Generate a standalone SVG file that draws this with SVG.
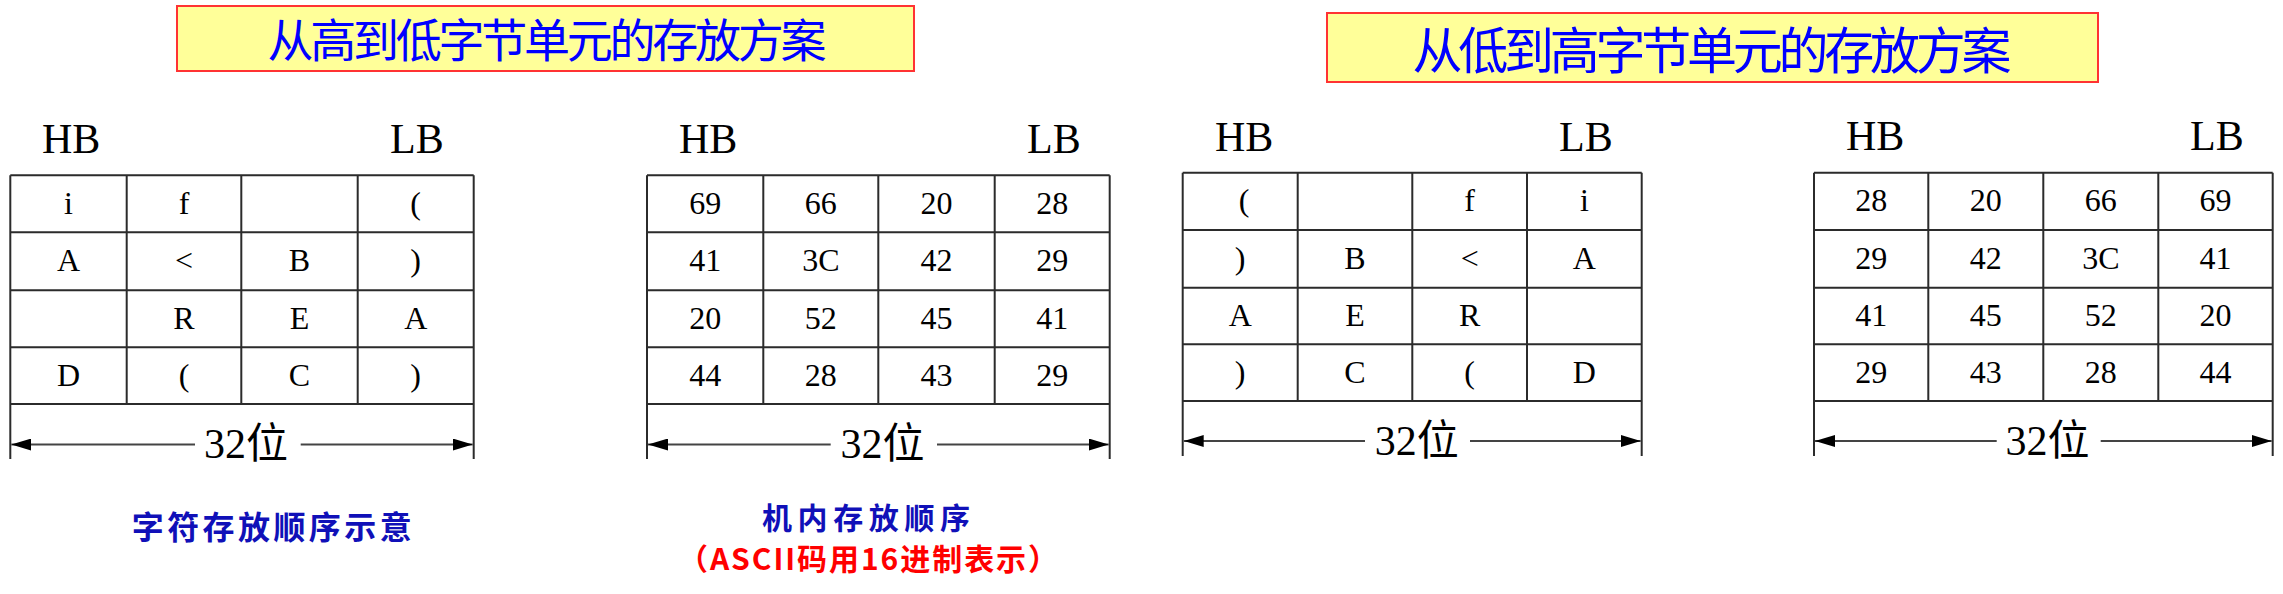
<svg xmlns="http://www.w3.org/2000/svg" width="2283" height="594" viewBox="0 0 2283 594">
<defs>
<style>
.title-box{fill:#FFFF99;stroke:#FF3333;stroke-width:2}
.title{font-family:"Noto Sans CJK SC",sans-serif;fill:#0000FF;text-anchor:middle}
.grid{fill:none;stroke:#2b2b2b;stroke-width:2}
.hb{font-family:"Liberation Serif",serif;font-size:42px;fill:#000}
.cell{font-family:"Liberation Serif",serif;font-size:32px;fill:#000;text-anchor:middle}
.dim{font-family:"Liberation Serif","Noto Sans CJK SC",serif;font-size:42px;fill:#000;text-anchor:middle}
.dimline{stroke:#444;stroke-width:2;fill:none}
.cap-blue{font-family:"Noto Sans CJK SC",sans-serif;font-weight:bold;fill:#1010B8;text-anchor:middle}
.cap-red{font-family:"Noto Sans CJK SC",sans-serif;font-weight:bold;fill:#FF0000;text-anchor:middle}
</style>
<marker id="arr" markerUnits="userSpaceOnUse" markerWidth="20" markerHeight="12" refX="20" refY="6" orient="auto-start-reverse">
<path d="M0,0 L20,6 L0,12 z" fill="#000"/>
</marker>
</defs>
<rect width="2283" height="594" fill="#fff"/>

<g id="title1">
<rect class="title-box" x="177" y="6" width="737" height="65"/>
<text class="title" x="547" y="57" font-size="46" textLength="559" lengthAdjust="spacing">从高到低字节单元的存放方案</text>
</g>
<g id="title2">
<rect class="title-box" x="1327" y="13" width="771" height="69"/>
<text class="title" x="1712" y="69" font-size="50" textLength="599" lengthAdjust="spacing">从低到高字节单元的存放方案</text>
</g>

<g id="table1">
<text class="hb" x="42" y="153">HB</text>
<text class="hb" x="390" y="153">LB</text>
<path class="grid" d="M10.3,175.3 H473.7 M10.3,232.3 H473.7 M10.3,290.3 H473.7 M10.3,347.3 H473.7 M10.3,404 H473.7 M10.3,175.3 V459 M473.7,175.3 V459 M126.7,175.3 V404 M241.3,175.3 V404 M357.7,175.3 V404"/>
<text class="cell" x="68.5" y="213.8">i</text><text class="cell" x="184" y="213.8">f</text><text class="cell" x="415.7" y="213.8">(</text>
<text class="cell" x="68.5" y="270.8">A</text><text class="cell" x="184" y="270.8">&lt;</text><text class="cell" x="299.5" y="270.8">B</text><text class="cell" x="415.7" y="270.8">)</text>
<text class="cell" x="184" y="328.8">R</text><text class="cell" x="299.5" y="328.8">E</text><text class="cell" x="415.7" y="328.8">A</text>
<text class="cell" x="68.5" y="385.8">D</text><text class="cell" x="184" y="385.8">(</text><text class="cell" x="299.5" y="385.8">C</text><text class="cell" x="415.7" y="385.8">)</text>
<text class="dim" x="246" y="458">32位</text>
</g>

<g id="table2">
<text class="hb" x="679" y="153">HB</text>
<text class="hb" x="1027" y="153">LB</text>
<path class="grid" d="M647,175.3 H1109.7 M647,232.3 H1109.7 M647,290.3 H1109.7 M647,347.3 H1109.7 M647,404 H1109.7 M647,175.3 V459 M1109.7,175.3 V459 M763.3,175.3 V404 M878.3,175.3 V404 M994.7,175.3 V404"/>
<text class="cell" x="705.2" y="213.8">69</text><text class="cell" x="820.8" y="213.8">66</text><text class="cell" x="936.5" y="213.8">20</text><text class="cell" x="1052.2" y="213.8">28</text>
<text class="cell" x="705.2" y="270.8">41</text><text class="cell" x="820.8" y="270.8">3C</text><text class="cell" x="936.5" y="270.8">42</text><text class="cell" x="1052.2" y="270.8">29</text>
<text class="cell" x="705.2" y="328.8">20</text><text class="cell" x="820.8" y="328.8">52</text><text class="cell" x="936.5" y="328.8">45</text><text class="cell" x="1052.2" y="328.8">41</text>
<text class="cell" x="705.2" y="385.8">44</text><text class="cell" x="820.8" y="385.8">28</text><text class="cell" x="936.5" y="385.8">43</text><text class="cell" x="1052.2" y="385.8">29</text>
<text class="dim" x="882.5" y="458">32位</text>
</g>

<g id="table3">
<text class="hb" x="1215" y="150.5">HB</text>
<text class="hb" x="1559" y="150.5">LB</text>
<path class="grid" d="M1182.7,172.7 H1641.7 M1182.7,230 H1641.7 M1182.7,287.7 H1641.7 M1182.7,344.3 H1641.7 M1182.7,401 H1641.7 M1182.7,172.7 V456 M1641.7,172.7 V456 M1297.7,172.7 V401 M1412.3,172.7 V401 M1527,172.7 V401"/>
<text class="cell" x="1244" y="211.2">(</text><text class="cell" x="1469.7" y="211.2">f</text><text class="cell" x="1584.4" y="211.2">i</text>
<text class="cell" x="1240.2" y="268.5">)</text><text class="cell" x="1355" y="268.5">B</text><text class="cell" x="1469.7" y="268.5">&lt;</text><text class="cell" x="1584.4" y="268.5">A</text>
<text class="cell" x="1240.2" y="326.2">A</text><text class="cell" x="1355" y="326.2">E</text><text class="cell" x="1469.7" y="326.2">R</text>
<text class="cell" x="1240.2" y="382.8">)</text><text class="cell" x="1355" y="382.8">C</text><text class="cell" x="1469.7" y="382.8">(</text><text class="cell" x="1584.4" y="382.8">D</text>
<text class="dim" x="1416.7" y="455">32位</text>
</g>

<g id="table4">
<text class="hb" x="1846" y="150">HB</text>
<text class="hb" x="2190" y="150">LB</text>
<path class="grid" d="M1814,172.7 H2272.7 M1814,230 H2272.7 M1814,287.7 H2272.7 M1814,344.3 H2272.7 M1814,401 H2272.7 M1814,172.7 V456 M2272.7,172.7 V456 M1928.3,172.7 V401 M2043.3,172.7 V401 M2158.3,172.7 V401"/>
<text class="cell" x="1871.2" y="211.2">28</text><text class="cell" x="1985.8" y="211.2">20</text><text class="cell" x="2100.8" y="211.2">66</text><text class="cell" x="2215.5" y="211.2">69</text>
<text class="cell" x="1871.2" y="268.5">29</text><text class="cell" x="1985.8" y="268.5">42</text><text class="cell" x="2100.8" y="268.5">3C</text><text class="cell" x="2215.5" y="268.5">41</text>
<text class="cell" x="1871.2" y="326.2">41</text><text class="cell" x="1985.8" y="326.2">45</text><text class="cell" x="2100.8" y="326.2">52</text><text class="cell" x="2215.5" y="326.2">20</text>
<text class="cell" x="1871.2" y="382.8">29</text><text class="cell" x="1985.8" y="382.8">43</text><text class="cell" x="2100.8" y="382.8">28</text><text class="cell" x="2215.5" y="382.8">44</text>
<text class="dim" x="2047.5" y="455">32位</text>
</g>

<g id="connectors">
<path class="dimline" d="M195,444.5 H11.3" marker-end="url(#arr)"/>
<path class="dimline" d="M300.7,444.5 H472.7" marker-end="url(#arr)"/>
<path class="dimline" d="M830.7,444.5 H648" marker-end="url(#arr)"/>
<path class="dimline" d="M937,444.5 H1108.7" marker-end="url(#arr)"/>
<path class="dimline" d="M1365,441 H1183.7" marker-end="url(#arr)"/>
<path class="dimline" d="M1470,441 H1640.7" marker-end="url(#arr)"/>
<path class="dimline" d="M1996.7,441 H1815" marker-end="url(#arr)"/>
<path class="dimline" d="M2100.7,441 H2271.7" marker-end="url(#arr)"/>
</g>

<g id="caption1">
<text class="cap-blue" x="271.7" y="539" font-size="32" textLength="280" lengthAdjust="spacing">字符存放顺序示意</text>
</g>
<g id="caption2">
<text class="cap-blue" x="866" y="529" font-size="30" textLength="208" lengthAdjust="spacing">机内存放顺序</text>
<text class="cap-red" x="868" y="570" font-size="30" textLength="380" lengthAdjust="spacing">（ASCII码用16进制表示）</text>
</g>
</svg>
